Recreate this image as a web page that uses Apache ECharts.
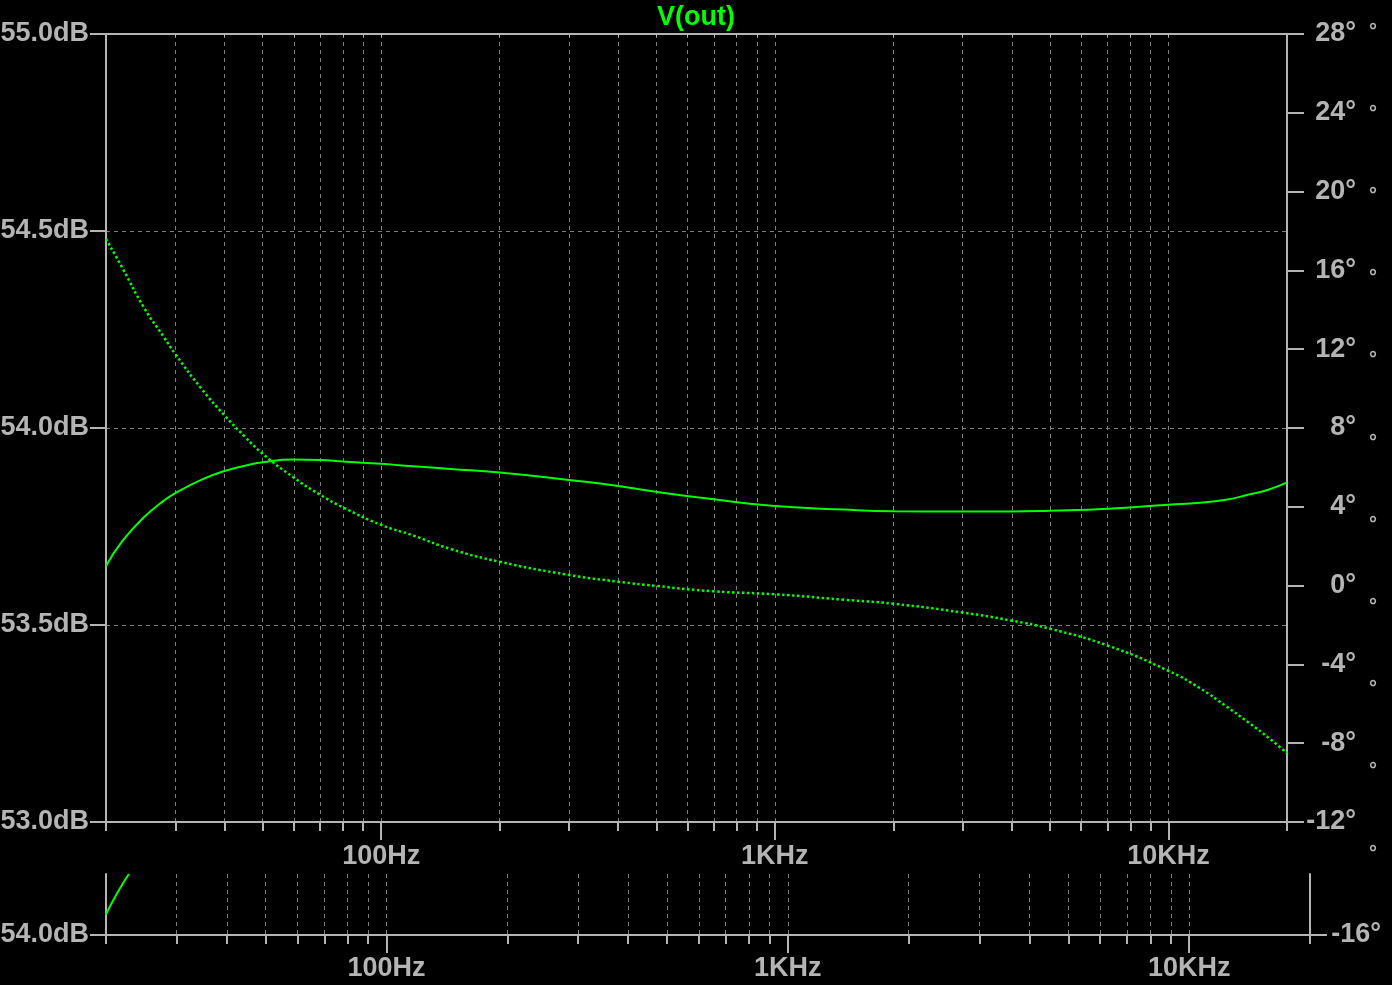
<!DOCTYPE html>
<html>
<head>
<meta charset="utf-8">
<script src="https://cdn.jsdelivr.net/npm/echarts@6/dist/echarts.min.js"></script>
<style>
html,body{margin:0;padding:0;background:#000;}
#c{width:1392px;height:985px;}
</style>
</head>
<body>
<div id="c"></div>
<script>
// ---- data ----
const freqHz   = [20, 22, 25, 28, 30, 35, 40, 45, 50, 60, 70, 80, 100, 120, 150, 200, 300, 400, 500, 700,
                  1000, 1500, 2000, 3000, 4000, 5000, 7000, 10000, 12000, 14000, 16000, 18000, 20000];
const magDb    = [53.650, 53.713, 53.774, 53.815, 53.835, 53.869, 53.891, 53.904, 53.913, 53.920, 53.919, 53.915,
                  53.909, 53.903, 53.896, 53.887, 53.868, 53.853, 53.838, 53.819,
                  53.802, 53.793, 53.789, 53.788, 53.788, 53.790, 53.795, 53.805, 53.810, 53.818, 53.831, 53.844, 53.862];
const phaseDeg = [17.60, 16.13, 14.09, 12.64, 11.75, 9.98, 8.64, 7.57, 6.69, 5.48, 4.61, 3.97,
                  3.08, 2.56, 1.86, 1.21, 0.54, 0.20, -0.02, -0.29,
                  -0.44, -0.72, -0.92, -1.37, -1.78, -2.19, -3.04, -4.33, -5.20, -6.12, -6.96, -7.74, -8.51];
// lower (squeezed) pane trace
const paneHz = [20, 21.3, 22.8];
const paneDb = [54.034, 54.068, 54.100];

// ---- axis ticks / labels ----
const decadeHz = [100, 1000, 10000];
const gridHz = [30, 40, 50, 60, 70, 80, 90, 100, 200, 300, 400, 500, 600, 700, 800, 900,
                1000, 2000, 3000, 4000, 5000, 6000, 7000, 8000, 9000, 10000];
const minorTickHz = [20, 30, 40, 50, 60, 70, 80, 90, 200, 300, 400, 500, 600, 700, 800, 900,
                     2000, 3000, 4000, 5000, 6000, 7000, 8000, 9000, 20000];
const paneDbTicks = [54.0];
const panePhaseTicks = [-16];

const GRAY = '#b4b4b4', GRIDC = '#7c7c7c', GREEN = '#00ff00';
const FONT = 'Liberation Sans';
const FS = 27;
const FW = 'bold';

function fmtHz(v) { return v >= 1000 ? (Math.round(v / 1000)) + 'KHz' : Math.round(v) + 'Hz'; }

function paneXAxes(gridIndex, labelMargin) {
  return [
    { type: 'log', logBase: 10, gridIndex, position: 'bottom', min: 20, max: 20000, z: 3,
      axisLine: { show: true, onZero: false, lineStyle: { color: GRAY, width: 2 } },
      axisTick: { show: true, length: 9, lineStyle: { color: GRAY, width: 2 }, customValues: minorTickHz },
      axisLabel: { show: false }, splitLine: { show: false } },
    { type: 'log', logBase: 10, gridIndex, position: 'bottom', min: 20, max: 20000, z: 3,
      axisLine: { show: false, onZero: false },
      axisTick: { show: true, length: 18, lineStyle: { color: GRAY, width: 2 }, customValues: decadeHz },
      axisLabel: { show: true, customValues: decadeHz, formatter: fmtHz, color: GRAY,
                   fontSize: FS, fontWeight: FW, fontFamily: FONT, margin: labelMargin },
      splitLine: { show: false } },
    { type: 'log', logBase: 10, gridIndex, position: 'bottom', min: 20, max: 20000, z: 0,
      axisLine: { show: false, onZero: false },
      axisTick: { show: false, customValues: gridHz },
      axisLabel: { show: false },
      splitLine: { show: true, lineStyle: { color: GRIDC, width: 1, type: [4, 4] } } }
  ];
}

const xAxis = [].concat(
  paneXAxes(0, 21),
  [{ type: 'log', logBase: 10, gridIndex: 0, position: 'top', min: 20, max: 20000, z: 3,
     axisLine: { show: true, onZero: false, lineStyle: { color: GRAY, width: 2 } },
     axisTick: { show: true, inside: true, length: 3, lineStyle: { color: GRAY, width: 1 }, customValues: gridHz },
     axisLabel: { show: false }, splitLine: { show: false } }],
  paneXAxes(1, 20),
  [{ type: 'value', gridIndex: 2, show: false, min: 0, max: 1 }]
);

const yAxis = [
  { type: 'value', gridIndex: 0, position: 'left', min: 53, max: 55, interval: 0.5, z: 1,
    axisLine: { show: true, onZero: false, lineStyle: { color: GRAY, width: 2 } },
    axisTick: { show: true, length: 16, lineStyle: { color: GRAY, width: 2 } },
    axisLabel: { color: GRAY, fontSize: FS, fontWeight: FW, fontFamily: FONT, margin: 17,
                 formatter: v => v.toFixed(1) + 'dB' },
    splitLine: { show: true, lineStyle: { color: GRIDC, width: 1, type: [4, 4] } } },
  { type: 'value', gridIndex: 0, position: 'right', min: -12, max: 28, interval: 4, z: 1,
    axisLine: { show: true, onZero: false, lineStyle: { color: GRAY, width: 2 } },
    axisTick: { show: true, length: 17, lineStyle: { color: GRAY, width: 2 } },
    axisLabel: { color: GRAY, fontSize: FS, fontWeight: FW, fontFamily: FONT, margin: 69, align: 'right',
                 formatter: v => v + '°' },
    splitLine: { show: false } },
  { type: 'value', gridIndex: 1, position: 'left', min: 54.0, max: 54.1, z: 1,
    axisLine: { show: true, onZero: false, lineStyle: { color: GRAY, width: 2 } },
    axisTick: { show: true, length: 16, lineStyle: { color: GRAY, width: 2 }, customValues: paneDbTicks },
    axisLabel: { color: GRAY, fontSize: FS, fontWeight: FW, fontFamily: FONT, margin: 17, customValues: paneDbTicks,
                 formatter: v => v.toFixed(1) + 'dB' },
    splitLine: { show: false } },
  { type: 'value', gridIndex: 1, position: 'right', min: -16, max: -15, z: 1,
    axisLine: { show: true, onZero: false, lineStyle: { color: GRAY, width: 2 } },
    axisTick: { show: true, length: 17, lineStyle: { color: GRAY, width: 2 }, customValues: panePhaseTicks },
    axisLabel: { color: GRAY, fontSize: FS, fontWeight: FW, fontFamily: FONT, margin: 71, align: 'right',
                 customValues: panePhaseTicks, formatter: v => v + '°' },
    splitLine: { show: false } },
  { type: 'value', gridIndex: 2, position: 'right', min: 0, max: 10, interval: 1,
    axisLine: { show: false }, axisTick: { show: false }, splitLine: { show: false },
    axisLabel: { color: GRAY, fontSize: 20, fontWeight: FW, fontFamily: FONT, margin: 0, align: 'center',
                 formatter: () => '°' } }
];

const option = {
  backgroundColor: '#000000',
  animation: false,
  title: { text: 'V(out)', left: 'center', top: -1,
           textStyle: { color: GREEN, fontSize: FS, fontWeight: 'bold', fontFamily: FONT } },
  grid: [
    { left: 106, right: 105, top: 34, height: 788, containLabel: false, outerBoundsMode: 'none' },
    { left: 106, right: 82, top: 874, height: 61, containLabel: false, outerBoundsMode: 'none' },
    { left: 1363, width: 10, top: 31, height: 822, containLabel: false, outerBoundsMode: 'none' }
  ],
  xAxis, yAxis,
  series: [
    { name: 'V(out) dB', type: 'line', xAxisIndex: 0, yAxisIndex: 0, smooth: 0.5,
      symbol: 'none', lineStyle: { color: GREEN, width: 2 }, data: freqHz.map((f, i) => [f, magDb[i]]) },
    { name: 'V(out) phase', type: 'line', xAxisIndex: 0, yAxisIndex: 1, smooth: 0.5,
      symbol: 'none', lineStyle: { color: GREEN, width: 2.5, type: [2.5, 2.5] },
      data: freqHz.map((f, i) => [f, phaseDeg[i]]) },
    { name: 'pane', type: 'line', xAxisIndex: 4, yAxisIndex: 2, smooth: true, symbol: 'none', clip: true,
      lineStyle: { color: GREEN, width: 2 }, data: paneHz.map((f, i) => [f, paneDb[i]]) }
  ]
};

const chart = echarts.init(document.getElementById('c'), null, { renderer: 'canvas' });
chart.setOption(option);
</script>
</body>
</html>
